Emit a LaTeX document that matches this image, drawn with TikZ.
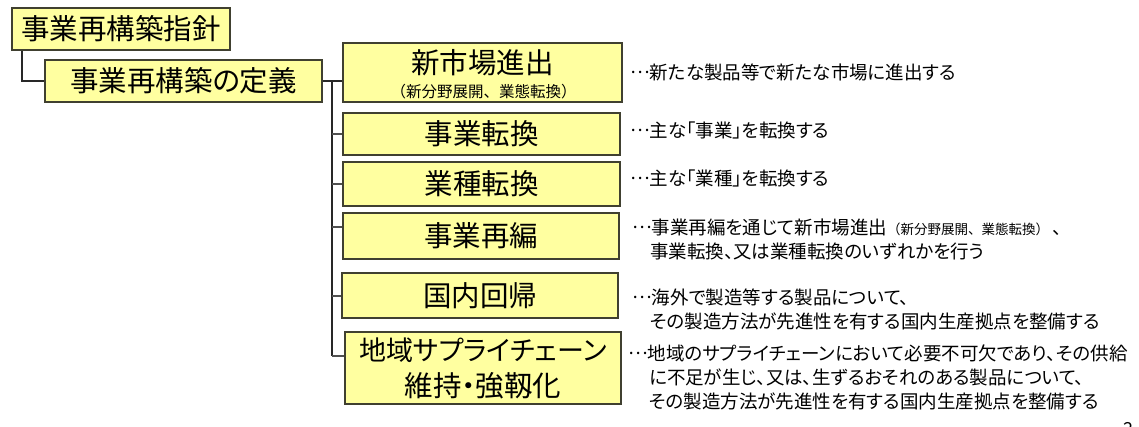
\documentclass[tikz,border=0pt]{standalone}
\usepackage{fontspec}
\setmainfont{Noto Sans CJK JP}[RawFeature=+palt]
\newfontfamily\jpfull{Noto Sans CJK JP}
\newcommand\middots{\raisebox{0.3em}{\jpfull …}}
\definecolor{boxfill}{RGB}{255,255,160}
\definecolor{boxline}{RGB}{64,64,48}
\definecolor{linecol}{RGB}{40,40,40}
\definecolor{tickcol}{RGB}{80,80,80}
\begin{document}
\begin{tikzpicture}[x=1pt,y=-1pt,
  box/.style={draw=boxline, fill=boxfill, line width=1.3pt, inner sep=0pt, text=black, align=center, font=\fontsize{28.5}{36}\selectfont},
  boxtxt/.style={inner sep=0pt, text=black, font=\fontsize{28.5}{36}\selectfont},
  subtxt/.style={inner sep=0pt, text=black, font=\jpfull\fontsize{15.5}{18}\selectfont},
  desc/.style={anchor=west, align=left, inner sep=0pt, text=black, font=\fontsize{18.5}{24}\selectfont},
  trunk/.style={line width=1.5pt, draw=linecol},
  tick/.style={line width=1.2pt, draw=tickcol}]
\useasboundingbox (0,0) rectangle (1139,427);
\fill[white] (0,0) rectangle (1139,427);

% left boxes
\node[box, minimum width=218, minimum height=42] (b1) at (121,29) {事業再構築指針};
\node[box, minimum width=277, minimum height=42] (b2) at (183.5,81) {事業再構築の定義};

% right boxes
\node[box, minimum width=279, minimum height=59] (r1) at (482.5,72.5) {};
\node[boxtxt] (r1t) at (482.5,63) {新市場進出};
\node[subtxt] (r1s) at (483.5,92) {（新分野展開、業態転換）};
\node[box, minimum width=277, minimum height=42] (r2) at (481.5,134) {事業転換};
\node[box, minimum width=277, minimum height=44] (r3) at (481.5,184) {業種転換};
\node[box, minimum width=276, minimum height=46] (r4) at (481,236) {事業再編};
\node[box, minimum width=276, minimum height=45] (r5) at (480,295.5) {国内回帰};
\node[box, minimum width=276, minimum height=72] (r6) at (483,368) {{\fontsize{27}{36}\selectfont 地域サプライチェーン}\\維持・強靱化};

% connectors
\coordinate (c1) at (22,81);
\draw[trunk] (b1.south -| c1) -- (c1) -- (b2.west);
\coordinate (k1) at (332,81);
\coordinate (k2) at (332,134);
\coordinate (k3) at (332,184);
\coordinate (k4) at (332,227);
\coordinate (k5) at (332,296);
\coordinate (k6) at (332,356);
\draw[trunk] (b2.east) -- (b2.east -| r1.west);
\draw[trunk] (k1) -- (k6);
\draw[tick] (k2) -- (k2 -| r2.west);
\draw[tick] (k3) -- (k3 -| r3.west);
\draw[tick] (k4) -- (k4 -| r4.west);
\draw[tick] (k5) -- (k5 -| r5.west);
\draw[tick] (k6) -- (k6 -| r6.west);

% descriptions
\node[desc] (d1) at (630,72) {\middots 新たな製品等で新たな市場に進出する};
\node[desc] (d2) at (630,130) {\middots 主な「事業」を転換する};
\node[desc] (d3) at (630,178) {\middots 主な「業種」を転換する};
\node[desc] (d4) at (632,239) {\middots 事業再編を通じて新市場進出{\jpfull\fontsize{13.5}{16}\selectfont（新分野展開、業態転換）}\hspace{4pt}、\\\hspace*{18pt}事業転換、又は業種転換のいずれかを行う};
\node[desc] (d5) at (632,309) {\middots 海外で製造等する製品について、\\\hspace*{18pt}その製造方法が先進性を有する国内生産拠点を整備する};
\node[desc] (d6) at (628,377) {\middots 地域のサプライチェーンにおいて必要不可欠であり、その供給\\\hspace*{21pt}に不足が生じ、又は、生ずるおそれのある製品について、\\\hspace*{21pt}その製造方法が先進性を有する国内生産拠点を整備する};

\node[inner sep=0pt, font=\fontsize{18}{20}\selectfont] (pg) at (1128,429) {2};
\end{tikzpicture}
\end{document}
